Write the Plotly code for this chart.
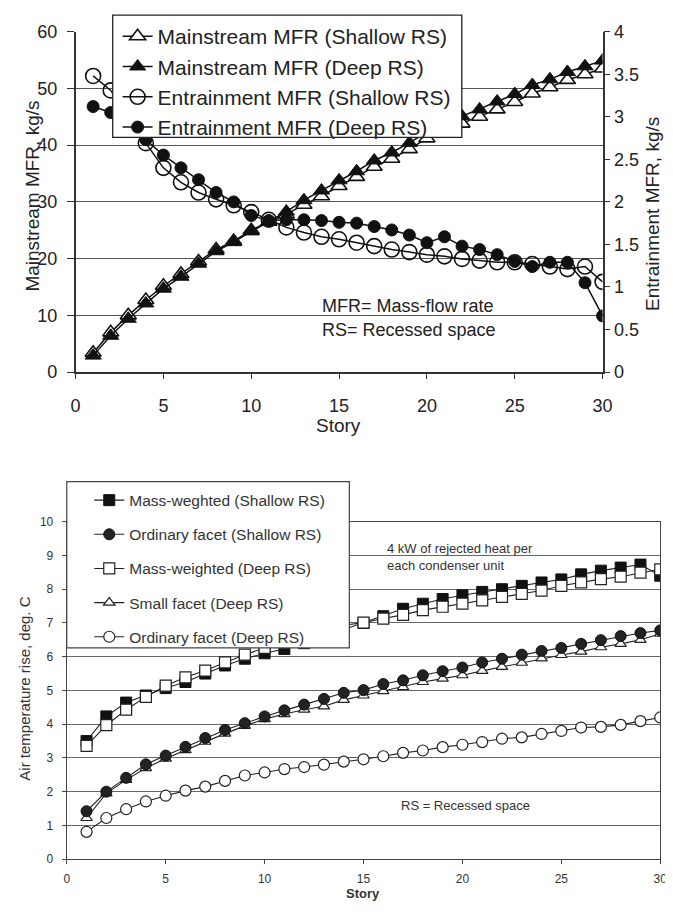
import plotly.graph_objects as go

# ---------------- data ----------------
stories = list(range(1, 31))

mainstream_shallow = [3.4, 7.0, 10.0, 12.7, 15.2, 17.3, 19.5, 21.6, 23.1, 25.0, 26.5, 27.8, 29.5, 31.0, 32.8,
                      34.4, 36.2, 37.6, 39.3, 41.2, 42.6, 43.8, 45.0, 46.3, 47.6, 49.1, 50.2, 51.5, 52.5, 53.5]
mainstream_deep = [2.9, 6.4, 9.4, 12.1, 14.7, 16.8, 19.1, 21.3, 22.9, 24.8, 26.5, 28.3, 30.3, 32.0, 33.8,
                   35.4, 37.3, 38.7, 40.4, 42.3, 43.8, 45.1, 46.3, 47.7, 49.0, 50.6, 51.6, 52.9, 53.9, 54.9]
entrain_shallow = [3.48, 3.31, 3.0, 2.69, 2.40, 2.23, 2.11, 2.03, 1.96, 1.88, 1.79, 1.70, 1.64, 1.59, 1.56,
                   1.52, 1.48, 1.44, 1.41, 1.38, 1.36, 1.33, 1.31, 1.29, 1.29, 1.27, 1.24, 1.21, 1.24, 1.06]
entrain_deep = [3.12, 3.05, 2.88, 2.73, 2.55, 2.40, 2.26, 2.11, 2.0, 1.84, 1.78, 1.79, 1.79, 1.78, 1.76,
                1.75, 1.71, 1.67, 1.61, 1.52, 1.59, 1.48, 1.44, 1.38, 1.30, 1.24, 1.29, 1.29, 1.05, 0.66]

mass_weighted_shallow = [3.5, 4.23, 4.64, 4.85, 5.07, 5.25, 5.5, 5.74, 5.94, 6.1, 6.23, 6.4, 6.6, 6.8, 7.0,
                         7.2, 7.42, 7.57, 7.71, 7.82, 7.92, 8.0, 8.1, 8.2, 8.29, 8.44, 8.55, 8.64, 8.73, 8.4]
ordinary_facet_shallow = [1.42, 2.0, 2.41, 2.81, 3.07, 3.33, 3.59, 3.83, 4.03, 4.23, 4.41, 4.58, 4.75, 4.93, 5.01,
                          5.19, 5.3, 5.45, 5.57, 5.68, 5.83, 5.94, 6.06, 6.17, 6.26, 6.38, 6.49, 6.61, 6.70, 6.78]
mass_weighted_deep = [3.36, 3.97, 4.43, 4.81, 5.14, 5.39, 5.59, 5.83, 6.06, 6.26, 6.45, 6.6, 6.75, 6.93, 7.01,
                      7.13, 7.24, 7.38, 7.48, 7.57, 7.67, 7.77, 7.86, 7.96, 8.1, 8.2, 8.3, 8.37, 8.49, 8.59]
small_facet_deep = [1.22, 1.95, 2.35, 2.7, 2.98, 3.23, 3.48, 3.72, 3.95, 4.15, 4.3, 4.43, 4.53, 4.72, 4.85,
                    4.98, 5.1, 5.25, 5.35, 5.45, 5.58, 5.7, 5.82, 5.95, 6.05, 6.15, 6.28, 6.38, 6.5, 6.68]
ordinary_facet_deep = [0.81, 1.22, 1.48, 1.71, 1.88, 2.03, 2.15, 2.32, 2.48, 2.57, 2.67, 2.73, 2.8, 2.89, 2.96,
                       3.05, 3.15, 3.22, 3.32, 3.39, 3.47, 3.57, 3.61, 3.71, 3.8, 3.9, 3.92, 3.98, 4.09, 4.2]

x_ticks = [0, 5, 10, 15, 20, 25, 30]

# ---------------- figure ----------------
W, H = 673, 913
OFF = 8  # page body margin offset of the rendered figure
FONT = "Liberation Sans, Arial, sans-serif"
fig = go.Figure()

def px_x(p):
    return (p - OFF) / W

def px_y(p):
    return 1 - (p - OFF) / H

top_line = dict(color="#111", width=1.5)

fig.add_trace(go.Scatter(x=stories, y=mainstream_shallow, name="Mainstream MFR (Shallow RS)",
                         mode="lines+markers", line=top_line,
                         marker=dict(symbol="triangle-up", size=14, color="white",
                                     line=dict(color="#111", width=1.6)),
                         xaxis="x", yaxis="y", legend="legend", legendgroup="a"))
fig.add_trace(go.Scatter(x=stories, y=mainstream_deep, name="Mainstream MFR (Deep RS)",
                         mode="lines+markers", line=top_line,
                         marker=dict(symbol="triangle-up", size=14, color="#111",
                                     line=dict(color="#111", width=1)),
                         xaxis="x", yaxis="y", legend="legend", legendgroup="b"))
fig.add_trace(go.Scatter(x=stories, y=entrain_shallow, name="Entrainment MFR (Shallow RS)",
                         mode="lines+markers", line=top_line,
                         marker=dict(symbol="circle-open", size=15, color="#111",
                                     line=dict(color="#111", width=1.6)),
                         xaxis="x", yaxis="y2", legend="legend", legendgroup="c"))
fig.add_trace(go.Scatter(x=stories, y=entrain_deep, name="Entrainment MFR (Deep RS)",
                         mode="lines+markers", line=top_line,
                         marker=dict(symbol="circle", size=12, color="#111",
                                     line=dict(color="#111", width=1)),
                         xaxis="x", yaxis="y2", legend="legend", legendgroup="d"))

bot_line = dict(color="#222", width=1.1)
fig.add_trace(go.Scatter(x=stories, y=mass_weighted_shallow, name="Mass-weghted (Shallow RS)",
                         mode="lines+markers", line=bot_line,
                         marker=dict(symbol="square", size=11, color="#111", line=dict(color="#111", width=1)),
                         xaxis="x3", yaxis="y3", legend="legend2", legendgroup="e", legendrank=1))
fig.add_trace(go.Scatter(x=stories, y=mass_weighted_deep, name="Mass-weighted (Deep RS)",
                         mode="lines+markers", line=bot_line,
                         marker=dict(symbol="square", size=11, color="white", line=dict(color="#222", width=1.2)),
                         xaxis="x3", yaxis="y3", legend="legend2", legendgroup="g", legendrank=3))
fig.add_trace(go.Scatter(x=stories, y=small_facet_deep, name="Small facet (Deep RS)",
                         mode="lines+markers", line=bot_line,
                         marker=dict(symbol="triangle-up", size=10, color="white", line=dict(color="#222", width=1.2)),
                         xaxis="x3", yaxis="y3", legend="legend2", legendgroup="h", legendrank=4))
fig.add_trace(go.Scatter(x=stories, y=ordinary_facet_shallow, name="Ordinary facet (Shallow RS)",
                         mode="lines+markers", line=bot_line,
                         marker=dict(symbol="circle", size=11, color="#222", line=dict(color="#111", width=1)),
                         xaxis="x3", yaxis="y3", legend="legend2", legendgroup="f", legendrank=2))
fig.add_trace(go.Scatter(x=stories, y=ordinary_facet_deep, name="Ordinary facet (Deep RS)",
                         mode="lines+markers", line=bot_line,
                         marker=dict(symbol="circle", size=11, color="white", line=dict(color="#222", width=1.2)),
                         xaxis="x3", yaxis="y3", legend="legend2", legendgroup="i", legendrank=5))

top_tick_font = dict(family=FONT, size=18, color="#222")
bot_tick_font = dict(family=FONT, size=12, color="#333")

fig.update_layout(
    width=W, height=H,
    margin=dict(l=0, r=0, t=0, b=0),
    paper_bgcolor="white", plot_bgcolor="white",
    font=dict(family=FONT, color="#222"),
    xaxis=dict(domain=[px_x(72), px_x(611)], range=[0, 30], tickvals=x_ticks,
               ticks="outside", ticklen=5, tickcolor="#333", ticklabelstandoff=12,
               showline=True, linecolor="#333", linewidth=1.5,
               showgrid=False, zeroline=False, tickfont=top_tick_font, anchor="y"),
    yaxis=dict(domain=[px_y(370), px_y(22)], range=[0, 60], dtick=10,
               ticks="outside", ticklen=7, tickcolor="#333", ticklabelstandoff=6,
               showline=True, linecolor="#333", linewidth=1.5,
               showgrid=True, gridcolor="#555", gridwidth=1.3, zeroline=False,
               tickfont=top_tick_font, anchor="x"),
    yaxis2=dict(overlaying="y", side="right", range=[0, 4], dtick=0.5,
                ticks="outside", ticklen=6, tickcolor="#333",
                showline=True, linecolor="#333", linewidth=1.5,
                showgrid=False, zeroline=False, tickfont=top_tick_font, anchor="x"),
    xaxis3=dict(domain=[px_x(63), px_x(670)], range=[0, 30], tickvals=x_ticks,
                ticks="outside", ticklen=4, tickcolor="#444", ticklabelstandoff=4,
                showline=True, linecolor="#444", linewidth=1.2, mirror=True,
                showgrid=False, zeroline=False, tickfont=bot_tick_font, anchor="y3"),
    yaxis3=dict(domain=[px_y(868), px_y(523)], range=[0, 10], dtick=1,
                ticks="outside", ticklen=4, tickcolor="#444", ticklabelstandoff=6,
                showline=True, linecolor="#444", linewidth=1.2, mirror=True,
                showgrid=True, gridcolor="#666", gridwidth=1, zeroline=False,
                tickfont=bot_tick_font, anchor="x3"),
    legend=dict(x=px_x(115), y=px_y(6), xanchor="left", yanchor="top",
                bgcolor="rgba(0,0,0,0)", borderwidth=0,
                font=dict(family=FONT, size=21, color="#222"),
                tracegroupgap=0, itemwidth=30),
    legend2=dict(x=px_x(86), y=px_y(484), xanchor="left", yanchor="top",
                 bgcolor="rgba(0,0,0,0)", borderwidth=0,
                 font=dict(family=FONT, size=15.5, color="#333"),
                 tracegroupgap=11, itemwidth=30),
    showlegend=True,
)

# legend frames (white boxes that sit over the plot, as in the original)
shapes = [
    dict(type="rect", xref="paper", yref="paper", x0=px_x(110), x1=px_x(467), y0=px_y(130), y1=px_y(5),
         fillcolor="white", line=dict(color="#222", width=1.3), layer="above"),
    dict(type="rect", xref="paper", yref="paper", x0=px_x(63), x1=px_x(352), y0=px_y(652), y1=px_y(482),
         fillcolor="white", line=dict(color="#444", width=1.2), layer="above"),
]

def ann(text, x, y, size, color="#222", angle=0, xref="paper", yref="paper", xanchor="center", yanchor="middle", align="center"):
    return dict(text=text, x=x, y=y, xref=xref, yref=yref, textangle=angle, showarrow=False,
                xanchor=xanchor, yanchor=yanchor, align=align,
                font=dict(family=FONT, size=size, color=color))

annotations = [
    ann("Mainstream MFR, kg/s", px_x(27), px_y(190), 19, angle=-90),
    ann("Entrainment MFR, kg/s", px_x(662), px_y(208), 19, angle=-90),
    ann("Story", px_x(341), px_y(425), 19),
    ann("MFR= Mass-flow rate", 13.9, 11.6, 18, xref="x", yref="y", xanchor="left"),
    ann("RS= Recessed space", 13.9, 7.45, 18, xref="x", yref="y", xanchor="left"),
    ann("Air temperature rise, deg. C", px_x(20), px_y(694), 15, color="#333", angle=-90),
    ann("<b>Story</b>", px_x(366), px_y(903), 13, color="#333"),
    ann("4 kW of rejected heat per<br>each condenser unit", 16.07, 8.96, 13, color="#333",
        xref="x3", yref="y3", xanchor="left", align="left"),
    ann("RS = Recessed space", 16.8, 1.59, 13, color="#333", xref="x3", yref="y3", xanchor="left"),
]
fig.update_layout(annotations=annotations, shapes=shapes)

fig.write_html("out.html")
